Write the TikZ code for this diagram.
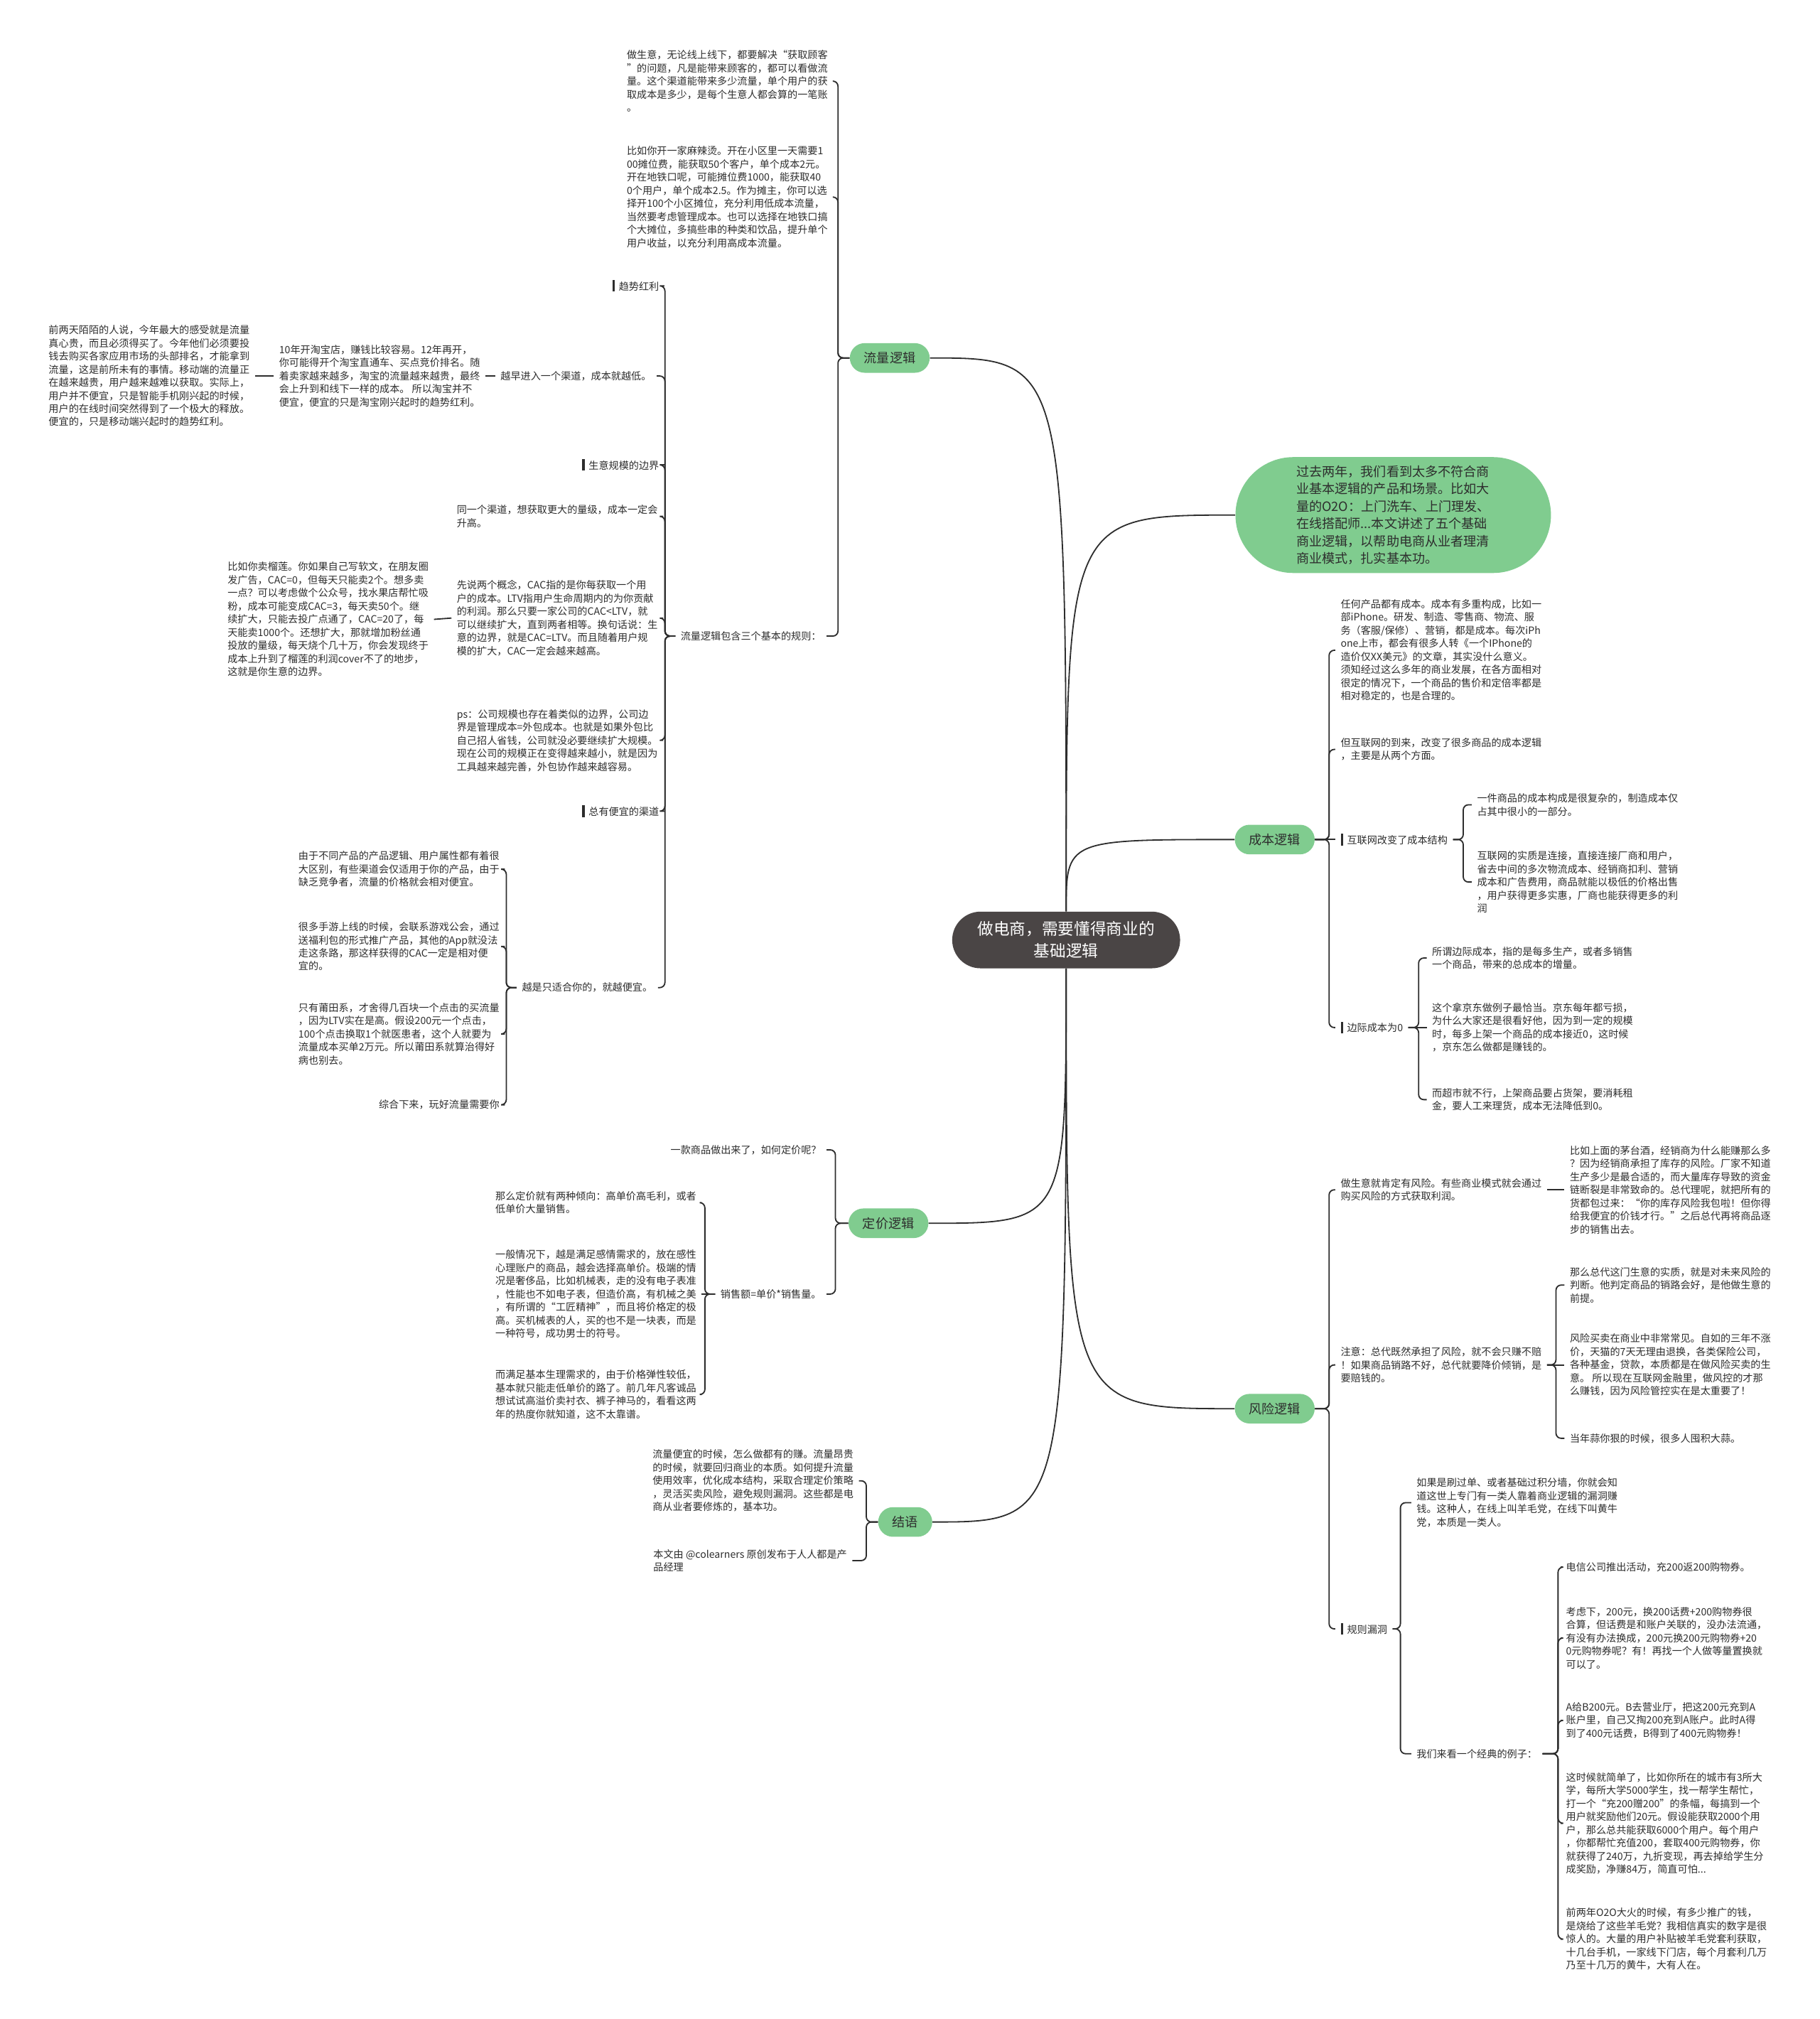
\documentclass[tikz,border=0pt]{standalone}
\usepackage{fontspec}
\newfontfamily\cjk{Noto Sans CJK SC}
\usepackage{tikz}
\usetikzlibrary{calc}
\definecolor{mapgreen}{RGB}{128,204,143}
\definecolor{rootgray}{RGB}{74,69,69}
\definecolor{inkgray}{RGB}{45,45,45}
\newcommand{\headbar}{\rule[-1.2pt]{2pt}{9pt}\hspace{3pt}}

\begin{document}
\begin{tikzpicture}[x=1pt, y=-1pt,
  txt/.style={inner xsep=4pt, inner ysep=1pt, align=left, text=inkgray, font=\cjk\fontsize{7.8}{10.2}\selectfont},
  ltxt/.style={txt, anchor=east},
  rtxt/.style={txt, anchor=west},
  branch/.style={fill=mapgreen, rounded corners=11.5pt, minimum height=23pt, inner xsep=11pt, text=inkgray, font=\cjk\fontsize{10}{12}\selectfont},
  centre/.style={fill=rootgray, text=white, rounded corners=22pt, minimum width=177pt, minimum height=44pt, align=center, font=\cjk\fontsize{12.5}{17}\selectfont},
  introbox/.style={fill=mapgreen, rounded corners=45pt, minimum width=245pt, minimum height=90pt, align=left, text=inkgray, font=\cjk\fontsize{10}{13.5}\selectfont},
  link/.style={draw=inkgray, line width=1pt, rounded corners=4pt},
  bough/.style={draw=inkgray, line width=1pt}]

% Hintergrund
\fill[white] (0,0) rectangle (1413,1568);

% Wurzel und Hauptaeste
\node[centre] (root) at (828,730) {做电商，需要懂得商业的\\基础逻辑};
\node[introbox] (intro) at (1082,400) {过去两年，我们看到太多不符合商\\业基本逻辑的产品和场景。比如大\\量的O2O：上门洗车、上门理发、\\在线搭配师...本文讲述了五个基础\\商业逻辑，以帮助电商从业者理清\\商业模式，扎实基本功。};
\node[branch] (flow) at (691,278) {流量逻辑};
\node[branch] (cost) at (990,652) {成本逻辑};
\node[branch] (price) at (690,950) {定价逻辑};
\node[branch] (risk) at (990,1094) {风险逻辑};
\node[branch] (summary) at (703,1182) {结语};

\foreach \b/\a in {flow/east, intro/west, cost/west}
  \draw[bough] (root.north) .. controls (root.north |- \b.\a) .. (\b.\a);
\foreach \b/\a in {price/east, risk/west, summary/east}
  \draw[bough] (root.south) .. controls (root.south |- \b.\a) .. (\b.\a);

% Flow
\node[ltxt] (a1) at (647,63) {做生意，无论线上线下，都要解决“获取顾客\\”的问题，凡是能带来顾客的，都可以看做流\\量。这个渠道能带来多少流量，单个用户的获\\取成本是多少，是每个生意人都会算的一笔账\\。};
\node[ltxt] (a2) at (647,153) {比如你开一家麻辣烫。开在小区里一天需要1\\00摊位费，能获取50个客户，单个成本2元。\\开在地铁口呢，可能摊位费1000，能获取40\\0个用户，单个成本2.5。作为摊主，你可以选\\择开100个小区摊位，充分利用低成本流量，\\当然要考虑管理成本。也可以选择在地铁口搞\\个大摊位，多搞些串的种类和饮品，提升单个\\用户收益，以充分利用高成本流量。};
\node[ltxt] (rules) at (642,494) {流量逻辑包含三个基本的规则：};
\node[ltxt] (t1) at (516,222) {\headbar 趋势红利};
\node[ltxt] (t2) at (510,292) {越早进入一个渠道，成本就越低。};
\node[ltxt] (b1) at (377,292) {10年开淘宝店，赚钱比较容易。12年再开，\\你可能得开个淘宝直通车、买点竞价排名。随\\着卖家越来越多，淘宝的流量越来越贵，最终\\会上升到和线下一样的成本。 所以淘宝并不\\便宜，便宜的只是淘宝刚兴起时的趋势红利。};
\node[ltxt] (b2) at (198,292) {前两天陌陌的人说，今年最大的感受就是流量\\真心贵，而且必须得买了。今年他们必须要投\\钱去购买各家应用市场的头部排名，才能拿到\\流量，这是前所未有的事情。移动端的流量正\\在越来越贵，用户越来越难以获取。实际上，\\用户并不便宜，只是智能手机刚兴起的时候，\\用户的在线时间突然得到了一个极大的释放。\\便宜的，只是移动端兴起时的趋势红利。};
\node[ltxt] (t3) at (516,361) {\headbar 生意规模的边界};
\node[ltxt] (t4) at (515,401) {同一个渠道，想获取更大的量级，成本一定会\\升高。};
\node[ltxt] (t5) at (515,480) {先说两个概念，CAC指的是你每获取一个用\\户的成本。LTV指用户生命周期内的为你贡献\\的利润。那么只要一家公司的CAC<LTV，就\\可以继续扩大，直到两者相等。换句话说：生\\意的边界，就是CAC=LTV。而且随着用户规\\模的扩大，CAC一定会越来越高。};
\node[ltxt] (c2) at (337,481) {比如你卖榴莲。你如果自己写软文，在朋友圈\\发广告，CAC=0，但每天只能卖2个。想多卖\\一点？可以考虑做个公众号，找水果店帮忙吸\\粉，成本可能变成CAC=3，每天卖50个。继\\续扩大，只能去投广点通了，CAC=20了，每\\天能卖1000个。还想扩大，那就增加粉丝通\\投放的量级，每天烧个几十万，你会发现终于\\成本上升到了榴莲的利润cover不了的地步，\\这就是你生意的边界。};
\node[ltxt] (t6) at (515,575) {ps：公司规模也存在着类似的边界，公司边\\界是管理成本=外包成本。也就是如果外包比\\自己招人省钱，公司就没必要继续扩大规模。\\现在公司的规模正在变得越来越小，就是因为\\工具越来越完善，外包协作越来越容易。};
\node[ltxt] (t7) at (516,630) {\headbar 总有便宜的渠道};
\node[ltxt] (t8) at (511,767) {越是只适合你的，就越便宜。};
\node[ltxt] (d1) at (392,675) {由于不同产品的产品逻辑、用户属性都有着很\\大区别，有些渠道会仅适用于你的产品，由于\\缺乏竞争者，流量的价格就会相对便宜。};
\node[ltxt] (d2) at (392,735) {很多手游上线的时候，会联系游戏公会，通过\\送福利包的形式推广产品，其他的App就没法\\走这条路，那这样获得的CAC一定是相对便\\宜的。};
\node[ltxt] (d3) at (392,803) {只有莆田系，才舍得几百块一个点击的买流量\\，因为LTV实在是高。假设200元一个点击，\\100个点击换取1个就医患者，这个人就要为\\流量成本买单2万元。所以莆田系就算治得好\\病也别去。};
\node[ltxt] (d4) at (392,858) {综合下来，玩好流量需要你};

\foreach \ch in {a1,a2,rules} \draw[link] (flow.west) -- ++(-9,0) |- (\ch.east);
\foreach \ch in {t1,t2,t3,t4,t5,t6,t7,t8} \draw[link] (rules.west) -- ++(-8,0) |- (\ch.east);
\draw[link] (t2.west) -- (b1.east);
\draw[link] (b1.west) -- (b2.east);
\draw[link] (t5.west) -- (c2.east);
\foreach \ch in {d1,d2,d3,d4} \draw[link] (t8.west) -- ++(-8,0) |- (\ch.east);

% Preis
\node[ltxt] (e1) at (642,893) {一款商品做出来了，如何定价呢？};
\node[ltxt] (e2) at (642,1005) {销售额=单价*销售量。};
\node[ltxt] (e3) at (545,934) {那么定价就有两种倾向：高单价高毛利，或者\\低单价大量销售。};
\node[ltxt] (e4) at (545,1005) {一般情况下，越是满足感情需求的，放在感性\\心理账户的商品，越会选择高单价。极端的情\\况是奢侈品，比如机械表，走的没有电子表准\\，性能也不如电子表，但造价高，有机械之美\\，有所谓的“工匠精神”，而且将价格定的极\\高。买机械表的人，买的也不是一块表，而是\\一种符号，成功男士的符号。};
\node[ltxt] (e5) at (545,1083) {而满足基本生理需求的，由于价格弹性较低，\\基本就只能走低单价的路了。前几年凡客诚品\\想试试高溢价卖衬衣、裤子神马的，看看这两\\年的热度你就知道，这不太靠谱。};

\foreach \ch in {e1,e2} \draw[link] (price.west) -- ++(-10,0) |- (\ch.east);
\foreach \ch in {e3,e5} \draw[link] (e2.west) -- ++(-8,0) |- (\ch.east);
\draw[link] (e2.west) -- (e4.east);

% Schluss
\node[ltxt] (f1) at (667,1150) {流量便宜的时候，怎么做都有的赚。流量昂贵\\的时候，就要回归商业的本质。如何提升流量\\使用效率，优化成本结构，采取合理定价策略\\，灵活买卖风险，避免规则漏洞。这些都是电\\商从业者要修炼的，基本功。};
\node[ltxt] (f2) at (662,1212) {本文由 @colearners 原创发布于人人都是产\\品经理};

\foreach \ch in {f1,f2} \draw[link] (summary.west) -- ++(-9,0) |- (\ch.east);

% Kosten
\node[rtxt] (g1) at (1037,505) {任何产品都有成本。成本有多重构成，比如一\\部iPhone。研发、制造、零售商、物流、服\\务（客服/保修）、营销，都是成本。每次iPh\\one上市，都会有很多人转《一个IPhone的\\造价仅XX美元》的文章，其实没什么意义。\\须知经过这么多年的商业发展，在各方面相对\\很定的情况下，一个商品的售价和定倍率都是\\相对稳定的，也是合理的。};
\node[rtxt] (g2) at (1037,582) {但互联网的到来，改变了很多商品的成本逻辑\\，主要是从两个方面。};
\node[rtxt] (g3) at (1037,652) {\headbar 互联网改变了成本结构};
\node[rtxt] (g4) at (1037,798) {\headbar 边际成本为0};
\node[rtxt] (g3a) at (1143,625) {一件商品的成本构成是很复杂的，制造成本仅\\占其中很小的一部分。};
\node[rtxt] (g3b) at (1143,685) {互联网的实质是连接，直接连接厂商和用户，\\省去中间的多次物流成本、经销商扣利、营销\\成本和广告费用，商品就能以极低的价格出售\\，用户获得更多实惠，厂商也能获得更多的利\\润};
\node[rtxt] (g4a) at (1108,744) {所谓边际成本，指的是每多生产，或者多销售\\一个商品，带来的总成本的增量。};
\node[rtxt] (g4b) at (1108,798) {这个拿京东做例子最恰当。京东每年都亏损，\\为什么大家还是很看好他，因为到一定的规模\\时，每多上架一个商品的成本接近0，这时候\\，京东怎么做都是赚钱的。};
\node[rtxt] (g4c) at (1108,854) {而超市就不行，上架商品要占货架，要消耗租\\金，要人工来理货，成本无法降低到0。};

\foreach \ch in {g1,g2,g4} \draw[link] (cost.east) -- ++(11,0) |- (\ch.west);
\draw[link] (cost.east) -- (g3.west);
\foreach \ch in {g3a,g3b} \draw[link] (g3.east) -- ++(8,0) |- (\ch.west);
\foreach \ch in {g4a,g4c} \draw[link] (g4.east) -- ++(8,0) |- (\ch.west);
\draw[link] (g4.east) -- (g4b.west);

% Risiko
\node[rtxt] (h1) at (1037,924) {做生意就肯定有风险。有些商业模式就会通过\\购买风险的方式获取利润。};
\node[rtxt] (h1a) at (1215,924) {比如上面的茅台酒，经销商为什么能赚那么多\\？因为经销商承担了库存的风险。厂家不知道\\生产多少是最合适的，而大量库存导致的资金\\链断裂是非常致命的。总代理呢，就把所有的\\货都包过来：“你的库存风险我包啦！但你得\\给我便宜的价钱才行。”之后总代再将商品逐\\步的销售出去。};
\node[rtxt] (h2) at (1037,1060) {注意：总代既然承担了风险，就不会只赚不赔\\！如果商品销路不好，总代就要降价倾销，是\\要赔钱的。};
\node[rtxt] (h2a) at (1215,998) {那么总代这门生意的实质，就是对未来风险的\\判断。他判定商品的销路会好，是他做生意的\\前提。};
\node[rtxt] (h2b) at (1215,1060) {风险买卖在商业中非常常见。自如的三年不涨\\价，天猫的7天无理由退换，各类保险公司，\\各种基金，贷款，本质都是在做风险买卖的生\\意。 所以现在互联网金融里，做风控的才那\\么赚钱，因为风险管控实在是太重要了！};
\node[rtxt] (h2c) at (1215,1117) {当年蒜你狠的时候，很多人囤积大蒜。};
\node[rtxt] (h3) at (1037,1265) {\headbar 规则漏洞};
\node[rtxt] (h3a) at (1096,1167) {如果是刷过单、或者基础过积分墙，你就会知\\道这世上专门有一类人靠着商业逻辑的漏洞赚\\钱。这种人，在线上叫羊毛党，在线下叫黄牛\\党，本质是一类人。};
\node[rtxt] (h3b) at (1096,1362) {我们来看一个经典的例子：};
\node[rtxt] (k1) at (1212,1217) {电信公司推出活动，充200返200购物券。};
\node[rtxt] (k2) at (1212,1272) {考虑下，200元，换200话费+200购物券很\\合算，但话费是和账户关联的，没办法流通，\\有没有办法换成，200元换200元购物券+20\\0元购物券呢？有！再找一个人做等量置换就\\可以了。};
\node[rtxt] (k3) at (1212,1336) {A给B200元。B去营业厅，把这200元充到A\\账户里，自己又掏200充到A账户。此时A得\\到了400元话费，B得到了400元购物券！};
\node[rtxt] (k4) at (1212,1416) {这时候就简单了，比如你所在的城市有3所大\\学，每所大学5000学生，找一帮学生帮忙，\\打一个“充200赠200”的条幅，每搞到一个\\用户就奖励他们20元。假设能获取2000个用\\户，那么总共能获取6000个用户。每个用户\\，你都帮忙充值200，套取400元购物券，你\\就获得了240万，九折变现，再去掉给学生分\\成奖励，净赚84万，简直可怕...};
\node[rtxt] (k5) at (1212,1506) {前两年O2O大火的时候，有多少推广的钱，\\是烧给了这些羊毛党？我相信真实的数字是很\\惊人的。大量的用户补贴被羊毛党套利获取，\\十几台手机，一家线下门店，每个月套利几万\\乃至十几万的黄牛，大有人在。};

\foreach \ch in {h1,h2,h3} \draw[link] (risk.east) -- ++(11,0) |- (\ch.west);
\draw[link] (h1.east) -- (h1a.west);
\foreach \ch in {h2a,h2c} \draw[link] (h2.east) -- ++(7,0) |- (\ch.west);
\draw[link] (h2.east) -- (h2b.west);
\foreach \ch in {h3a,h3b} \draw[link] (h3.east) -- ++(6,0) |- (\ch.west);
\foreach \ch in {k1,k2,k3,k4,k5} \draw[link] (h3b.east) -- ++(12,0) |- (\ch.west);

\end{tikzpicture}
\end{document}
